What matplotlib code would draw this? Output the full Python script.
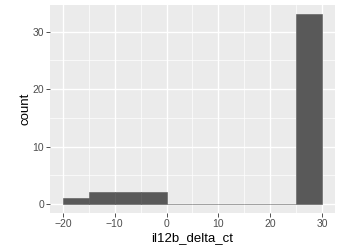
import matplotlib
matplotlib.use("Agg")
import matplotlib.pyplot as plt
import numpy as np

bin_edges = [-20, -15, -10, -5, 0, 5, 10, 15, 20, 25, 30]
counts = [1, 2, 2, 2, 0, 0, 0, 0, 0, 33]
x_ticks = [-20, -10, 0, 10, 20, 30]
x_tick_labels = ["\u221220", "\u221210", "0", "10", "20", "30"]
y_ticks = [0, 10, 20, 30]
x_label = "il12b_delta_ct"
y_label = "count"

plt.rcParams['font.family'] = ['Liberation Sans', 'DejaVu Sans']

fig = plt.figure(figsize=(3.39, 2.45), dpi=100)
ax = fig.add_axes([50/339, 1 - 213.4/245, (335-50)/339, (213.4-5)/245])
ax.set_facecolor("#EBEBEB")

lefts = np.array(bin_edges[:-1])
widths = np.diff(bin_edges)
ax.bar(lefts, counts, width=widths, align='edge', color="#595959",
       edgecolor="#595959", linewidth=0.4, zorder=3)

xmin, xmax = bin_edges[0], bin_edges[-1]
xr = xmax - xmin
ax.set_xlim(xmin - 0.05*xr, xmax + 0.05*xr)
ymax = max(counts)
ax.set_ylim(-0.05*ymax, ymax*1.05)

ax.set_xticks(x_ticks)
ax.set_xticklabels(x_tick_labels)
ax.set_yticks(y_ticks)
ax.set_xticks([-15, -5, 5, 15, 25], minor=True)
ax.set_yticks([5, 15, 25], minor=True)
ax.grid(which='major', color='white', linewidth=1.0, zorder=0)
ax.grid(which='minor', color='white', linewidth=0.5, zorder=0)
ax.set_axisbelow(True)
for s in ax.spines.values():
    s.set_visible(False)
ax.tick_params(which='major', length=2.7, width=0.6, color='#333333',
               labelsize=7.5, labelcolor='#4D4D4D', pad=1.5)
ax.tick_params(which='minor', length=0)
ax.set_xlabel(x_label, fontsize=9.5, color='black', labelpad=2)
ax.set_ylabel(y_label, fontsize=9.5, color='black', labelpad=1)

fig.savefig("out.png", dpi=100)
